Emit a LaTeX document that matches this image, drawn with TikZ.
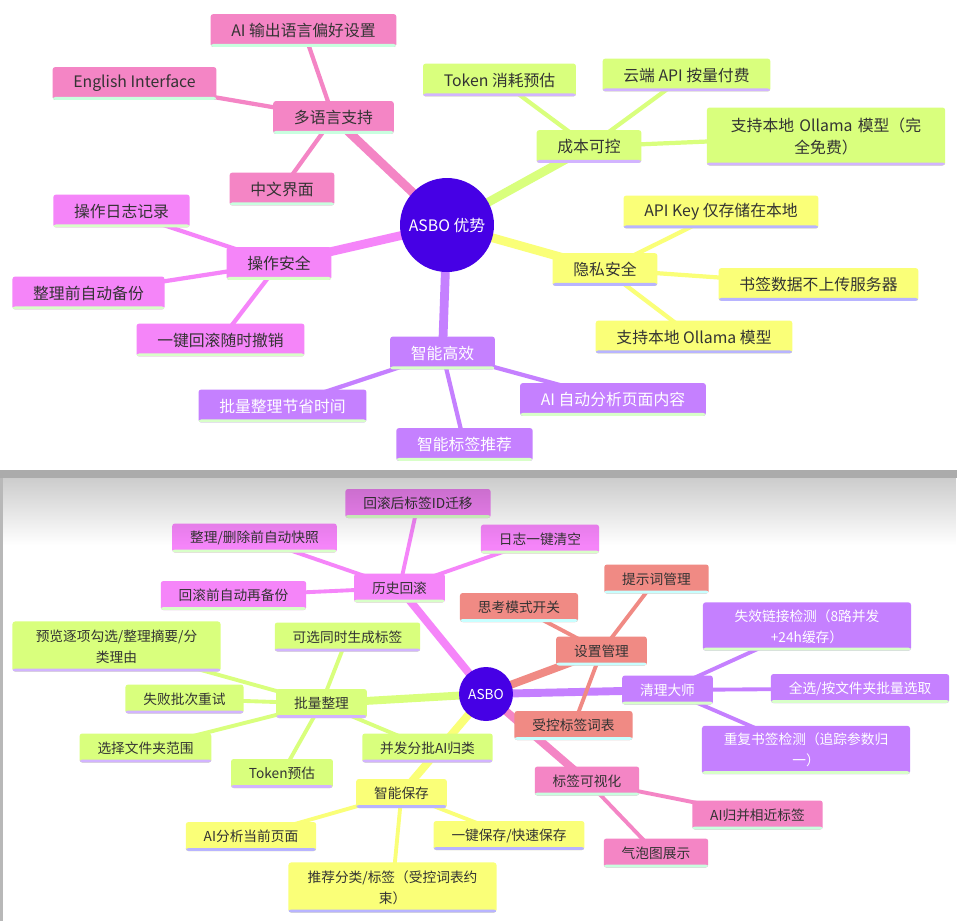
\documentclass[tikz,border=0pt]{standalone}
\usepackage{fontspec}
\setmainfont{Noto Sans CJK SC}
\usetikzlibrary{backgrounds,fadings}

\definecolor{rootblue}{HTML}{4600E5}
\definecolor{mmpink}{HTML}{F485C5}
\definecolor{mmlime}{HTML}{D9FF7D}
\definecolor{mmyellow}{HTML}{FAFF78}
\definecolor{mmpurple}{HTML}{C580FF}
\definecolor{mmmagenta}{HTML}{F585F9}
\definecolor{mmsalmon}{HTML}{F08A84}
\definecolor{mintline}{HTML}{C8FFDF}
\definecolor{lavline}{HTML}{D2B4FF}
\definecolor{blueline}{HTML}{B8B4FF}
\definecolor{greenline}{HTML}{D8FFC8}
\definecolor{cyanline}{HTML}{C8FFFF}
\definecolor{textdark}{HTML}{333333}

\tikzset{
  idea/.style 2 args={rectangle, rounded corners=1.5pt, fill=#1, text=textdark,
    path picture={\fill[#2] (path picture bounding box.south west)
      rectangle ([yshift=1.7pt]path picture bounding box.south east);}},
  pinkbox/.style={idea={mmpink}{mintline}},
  limebox/.style={idea={mmlime}{lavline}},
  yelbox/.style={idea={mmyellow}{blueline}},
  purbox/.style={idea={mmpurple}{greenline}, text=white},
  magbox/.style={idea={mmmagenta}{greenline}},
  salbox/.style={idea={mmsalmon}{cyanline}},
  hub/.style={circle, fill=rootblue, text=white, inner sep=0pt},
  upper/.style={font=\fontsize{9}{13}\selectfont, inner xsep=11.8pt, inner ysep=0pt, minimum height=18.7pt},
  lower/.style={font=\fontsize{7.8}{11.9}\selectfont, inner xsep=10.2pt, inner ysep=0pt, minimum height=16.5pt},
  trunk/.style={line width=5pt},
  twig/.style={line width=2.4pt},
}

\begin{document}
\begin{tikzpicture}[x=0.02cm, y=-0.02cm]
  \useasboundingbox (0,0) rectangle (957,921);
  \begin{scope}[on background layer]
    \fill[white] (0,0) rectangle (957,921);
  \end{scope}

  % first map: ASBO advantages
  \begin{scope}[upper]
    \node[hub, minimum size=1.88cm] (asbo) at (447,225) {ASBO 优势};
    \node[pinkbox] (lang) at (333.5,117.5) {多语言支持};
    \node[pinkbox] (langai) at (303.5,30.5) {AI 输出语言偏好设置};
    \node[pinkbox] (langen) at (134.5,83.5) {English Interface};
    \node[pinkbox] (langzh) at (282,189) {中文界面};
    \node[limebox] (cost) at (589,146.5) {成本可控};
    \node[limebox] (costtok) at (499.5,80) {Token 消耗预估};
    \node[limebox] (costcloud) at (686.5,75) {云端 API 按量付费};
    \node[limebox, text width=112pt, align=center, minimum height=33pt] (costlocal) at (826,136.5) {支持本地 Ollama 模型（完\\全免费）};
    \node[yelbox] (priv) at (605,269.5) {隐私安全};
    \node[yelbox] (privkey) at (721,212) {API Key 仅存储在本地};
    \node[yelbox] (privup) at (818.5,284.5) {书签数据不上传服务器};
    \node[yelbox] (privlocal) at (694,337) {支持本地 Ollama 模型};
    \node[purbox] (fast) at (442.5,353) {智能高效};
    \node[purbox] (fastpage) at (613,399.5) {AI 自动分析页面内容};
    \node[purbox] (fasttag) at (464.5,444.5) {智能标签推荐};
    \node[purbox] (fastbatch) at (282.5,406) {批量整理节省时间};
    \node[magbox] (safe) at (279,263.5) {操作安全};
    \node[magbox] (safelog) at (121.5,211) {操作日志记录};
    \node[magbox] (safebak) at (88.5,293) {整理前自动备份};
    \node[magbox] (safeundo) at (220.5,340) {一键回滚随时撤销};
  \end{scope}
  \begin{scope}[on background layer]
    \draw[trunk, mmpink] (asbo.center) -- (lang.center);
    \draw[trunk, mmlime] (asbo.center) -- (cost.center);
    \draw[trunk, mmyellow] (asbo.center) -- (priv.center);
    \draw[trunk, mmpurple] (asbo.center) -- (fast.center);
    \draw[trunk, mmmagenta] (asbo.center) -- (safe.center);
    \foreach \leaf in {langai,langen,langzh}
      \draw[twig, mmpink] (lang.center) -- (\leaf.center);
    \foreach \leaf in {costtok,costcloud,costlocal}
      \draw[twig, mmlime] (cost.center) -- (\leaf.center);
    \foreach \leaf in {privkey,privup,privlocal}
      \draw[twig, mmyellow] (priv.center) -- (\leaf.center);
    \foreach \leaf in {fastpage,fasttag,fastbatch}
      \draw[twig, mmpurple] (fast.center) -- (\leaf.center);
    \foreach \leaf in {safelog,safebak,safeundo}
      \draw[twig, mmmagenta] (safe.center) -- (\leaf.center);
  \end{scope}

  % second map: ASBO features
  \begin{scope}[lower]
    \node[hub, minimum size=1.08cm] (core) at (486,694) {ASBO};
    \node[magbox] (hist) at (399.5,588) {历史回滚};
    \node[magbox] (histid) at (418,503.5) {回滚后标签ID迁移};
    \node[magbox] (histsnap) at (254.5,538) {整理/删除前自动快照};
    \node[magbox] (histpre) at (233.5,595.5) {回滚前自动再备份};
    \node[magbox] (histlog) at (540,539) {日志一键清空};
    \node[salbox] (set) at (601.5,651) {设置管理};
    \node[salbox] (setprompt) at (656.5,579) {提示词管理};
    \node[salbox] (setthink) at (519,607.5) {思考模式开关};
    \node[salbox] (setvocab) at (573.5,725.5) {受控标签词表};
    \node[purbox] (clean) at (667.5,690) {清理大师};
    \node[purbox, text width=98pt, align=center, minimum height=27.5pt] (cleandead) at (807,626.5) {失效链接检测（8路并发\\+24h缓存）};
    \node[purbox] (cleanall) at (860,688.5) {全选/按文件夹批量选取};
    \node[purbox, text width=98pt, align=center, minimum height=27.5pt] (cleandup) at (806,750) {重复书签检测（追踪参数归\\一）};
    \node[pinkbox] (vis) at (587,781) {标签可视化};
    \node[pinkbox] (vismerge) at (757.5,815) {AI归并相近标签};
    \node[pinkbox] (visbubble) at (656,853) {气泡图展示};
    \node[yelbox] (save) at (401.5,793.5) {智能保存};
    \node[yelbox] (savepage) at (251,836.5) {AI分析当前页面};
    \node[yelbox] (savequick) at (509,835.5) {一键保存/快速保存};
    \node[yelbox, text width=98pt, align=center, minimum height=28.5pt] (saverec) at (392.5,887.5) {推荐分类/标签（受控词表约\\束）};
    \node[limebox] (batch) at (321.5,703.5) {批量整理};
    \node[limebox, text width=98pt, align=center, minimum height=28.5pt] (batchprev) at (116.5,646.5) {预览逐项勾选/整理摘要/分\\类理由};
    \node[limebox] (batchopt) at (347.5,637) {可选同时生成标签};
    \node[limebox] (batchretry) at (184.5,699) {失败批次重试};
    \node[limebox] (batchdir) at (145.5,748) {选择文件夹范围};
    \node[limebox] (batchtok) at (282,773.5) {Token预估};
    \node[limebox] (batchai) at (427.5,748) {并发分批AI归类};
  \end{scope}
  \begin{scope}[on background layer, trunk/.style={line width=4.5pt}, twig/.style={line width=2.2pt}]
    \draw[trunk, mmmagenta] (core.center) -- (hist.center);
    \draw[trunk, mmsalmon] (core.center) -- (set.center);
    \draw[trunk, mmpurple] (core.center) -- (clean.center);
    \draw[trunk, mmpink] (core.center) -- (vis.center);
    \draw[trunk, mmyellow] (core.center) -- (save.center);
    \draw[trunk, mmlime] (core.center) -- (batch.center);
    \foreach \leaf in {histid,histsnap,histpre,histlog}
      \draw[twig, mmmagenta] (hist.center) -- (\leaf.center);
    \foreach \leaf in {setprompt,setthink,setvocab}
      \draw[twig, mmsalmon] (set.center) -- (\leaf.center);
    \foreach \leaf in {cleandead,cleanall,cleandup}
      \draw[twig, mmpurple] (clean.center) -- (\leaf.center);
    \foreach \leaf in {vismerge,visbubble}
      \draw[twig, mmpink] (vis.center) -- (\leaf.center);
    \foreach \leaf in {savepage,savequick,saverec}
      \draw[twig, mmyellow] (save.center) -- (\leaf.center);
    \foreach \leaf in {batchprev,batchopt,batchretry,batchdir,batchtok,batchai}
      \draw[twig, mmlime] (batch.center) -- (\leaf.center);
  \end{scope}

  % window frame of the second screenshot
  \fill[black, opacity=0.2, path fading=south] (3,478) rectangle (957,545);
  \fill[black!33] (0,470) rectangle (957,478);
  \fill[black!28] (0,478) rectangle (3,921);
\end{tikzpicture}
\end{document}
